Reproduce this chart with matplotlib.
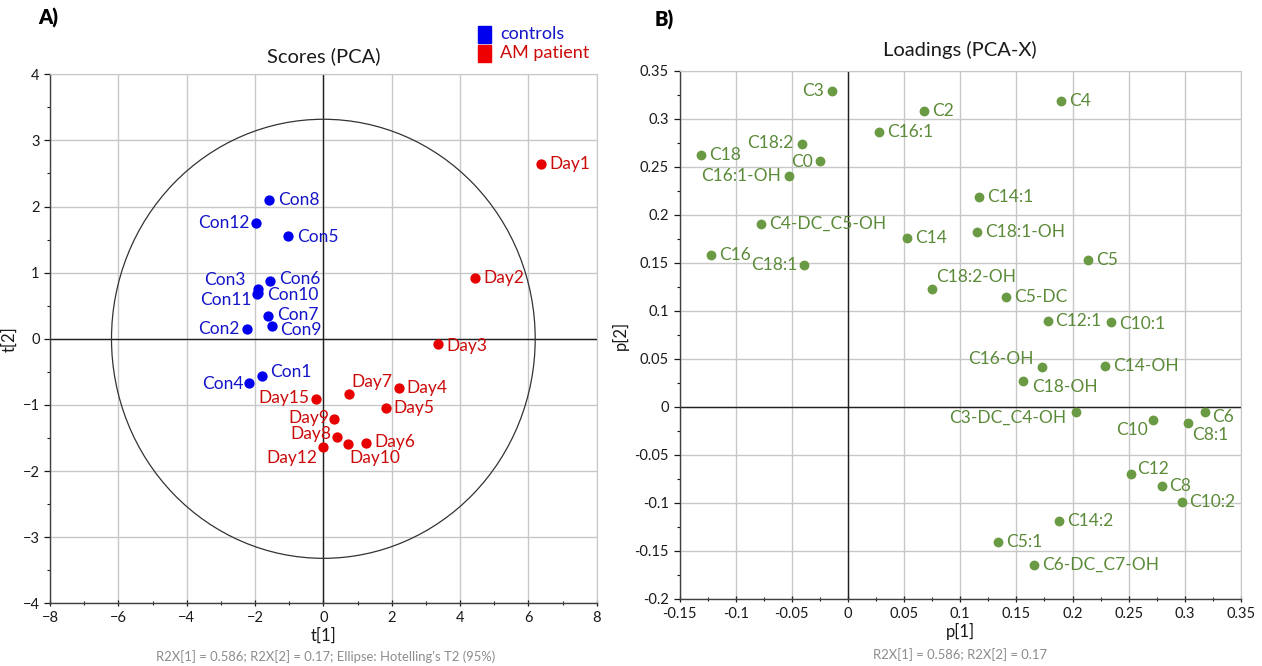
import matplotlib
matplotlib.use("Agg")
import matplotlib.pyplot as plt
from matplotlib.patches import Ellipse, Rectangle
import numpy as np

plt.rcParams['font.family'] = ['Lato', 'DejaVu Sans']

# ---------------- Scores data ----------------
ctrl_names = ["Con8", "Con12", "Con5", "Con6", "Con3", "Con11", "Con10",
              "Con7", "Con9", "Con2", "Con1", "Con4"]
ctrl_t1 = [-1.59, -1.97, -1.04, -1.56, -1.92, -1.95, -1.90, -1.63, -1.49, -2.24, -1.80, -2.17]
ctrl_t2 = [2.10, 1.75, 1.56, 0.87, 0.76, 0.67, 0.70, 0.35, 0.19, 0.15, -0.57, -0.67]

pat_names = ["Day1", "Day2", "Day3", "Day7", "Day4", "Day15", "Day5", "Day9",
             "Day8", "Day10", "Day6", "Day12"]
pat_t1 = [6.36, 4.43, 3.37, 0.75, 2.20, -0.21, 1.82, 0.31, 0.41, 0.73, 1.25, 0.0]
pat_t2 = [2.65, 0.92, -0.08, -0.84, -0.74, -0.91, -1.05, -1.21, -1.49, -1.59, -1.57, -1.63]

ellipse_rx = 6.2
ellipse_ry = 3.32

# ---------------- Loadings data ----------------
var_names = ["C3", "C2", "C4", "C16:1", "C18:2", "C18", "C0", "C16:1-OH",
             "C4-DC_C5-OH", "C14", "C14:1", "C18:1-OH", "C16", "C18:1", "C5",
             "C18:2-OH", "C5-DC", "C12:1", "C10:1", "C16-OH", "C14-OH", "C18-OH",
             "C3-DC_C4-OH", "C10", "C6", "C8:1", "C12", "C8", "C10:2", "C14:2",
             "C5:1", "C6-DC_C7-OH"]
p1 = [-0.014, 0.0674, 0.190, 0.0279, -0.0412, -0.131, -0.0252, -0.0525,
      -0.0775, 0.0525, 0.1167, 0.1146, -0.122, -0.0394, 0.214,
      0.0748, 0.1407, 0.1778, 0.2345, 0.173, 0.229, 0.1558,
      0.2028, 0.2716, 0.3176, 0.3028, 0.2517, 0.2793, 0.2971, 0.1879,
      0.1339, 0.1656]
p2 = [0.329, 0.308, 0.319, 0.2868, 0.274, 0.263, 0.2566, 0.2406,
      0.1906, 0.1764, 0.219, 0.1826, 0.1587, 0.148, 0.1535,
      0.123, 0.1146, 0.0899, 0.0882, 0.042, 0.0427, 0.0268,
      -0.0055, -0.0139, -0.0055, -0.0163, -0.0701, -0.0826, -0.0986, -0.119,
      -0.1406, -0.1646]

# label offsets (pixels) and alignment
ctrl_off = {"Con8": (9, 0, 'left'), "Con12": (-7, 0, 'right'), "Con5": (9, -1, 'left'),
            "Con6": (9, 2, 'left'), "Con3": (-12, 9, 'right'), "Con11": (-5, -6, 'right'),
            "Con10": (9, -2, 'left'), "Con7": (9, 1, 'left'), "Con9": (8, -4, 'left'),
            "Con2": (-7, 0, 'right'), "Con1": (8, 4, 'left'), "Con4": (-6, -1, 'right')}
pat_off = {"Day1": (9, 0, 'left'), "Day2": (9, 0, 'left'), "Day3": (8, -2, 'left'),
           "Day7": (2, 12, 'left'), "Day4": (8, 0, 'left'), "Day15": (-7, 1, 'right'),
           "Day5": (8, 0, 'left'), "Day9": (-5, 1, 'right'), "Day8": (-6, 3, 'right'),
           "Day10": (1, -14, 'left'), "Day6": (8, 1, 'left'), "Day12": (-6, -11, 'right')}
var_off = {"C3": (-8, 0, 'right'), "C18:2": (-8, 1, 'right'), "C0": (-7, -1, 'right'),
           "C16:1-OH": (-8, 0, 'right'), "C18:1": (-6, 0, 'right'),
           "C18:2-OH": (4, 12, 'left'), "C16-OH": (-9, 8, 'right'),
           "C18-OH": (9, -6, 'left'), "C3-DC_C4-OH": (-9, -6, 'right'),
           "C10": (-5, -10, 'right'), "C6": (8, -5, 'left'), "C8:1": (4, -12, 'left'),
           "C12": (7, 5, 'left'), "C10:1": (8, -2, 'left')}

# ---------------- figure ----------------
W, H = 1262, 666
fig = plt.figure(figsize=(W / 100, H / 100), dpi=100)

grid_c = '#c8c8c8'
spine_dark = '#404040'
tick_c = '#1a1a1a'
LBL = 12.5


def fmt(v):
    v = round(float(v), 3) + 0.0
    return '%g' % v


def style_axes(ax):
    ax.grid(True, which='major', color=grid_c, lw=1.0, zorder=0)
    ax.set_axisbelow(True)
    for s in ['top', 'right']:
        ax.spines[s].set_color(grid_c)
    for s in ['left', 'bottom']:
        ax.spines[s].set_color(spine_dark)
        ax.spines[s].set_linewidth(1.0)
    ax.tick_params(axis='both', which='major', labelsize=10.5, colors=tick_c, length=4, width=0.9)
    ax.tick_params(axis='both', which='minor', length=2.5, width=0.8, colors=tick_c)
    ax.tick_params(axis='x', which='both', direction='inout')
    ax.tick_params(axis='y', which='both', direction='out')


# ---- Left panel ----
ax1 = fig.add_axes([50 / W, 1 - 603.3 / H, 546.7 / W, 529 / H])
ax1.set_xlim(-8, 8)
ax1.set_ylim(-4, 4)
ax1.set_xticks(np.arange(-8, 9, 2))
ax1.set_yticks(np.arange(-4, 5, 1))
ax1.set_xticks(np.arange(-7, 8, 2), minor=True)
ax1.set_yticks(np.arange(-3.5, 4, 1), minor=True)
style_axes(ax1)
ax1.axhline(0, color='#202020', lw=1.0, zorder=1)
ax1.axvline(0, color='#202020', lw=1.0, zorder=1)
ax1.add_patch(Ellipse((0, 0), 2 * ellipse_rx, 2 * ellipse_ry, fill=False,
                      edgecolor='#333333', lw=0.9, zorder=2))

blue_dot = '#0000ee'
blue_txt = '#1414c8'
red_dot = '#e60000'
red_txt = '#cc0a0a'
ax1.scatter(ctrl_t1, ctrl_t2, s=55, color=blue_dot, zorder=3, linewidths=0)
ax1.scatter(pat_t1, pat_t2, s=55, color=red_dot, zorder=3, linewidths=0)
for n, x, y in zip(ctrl_names, ctrl_t1, ctrl_t2):
    dx, dy, ha = ctrl_off[n]
    ax1.annotate(n, (x, y), xytext=(dx, dy), textcoords='offset pixels', ha=ha,
                 va='center', fontsize=LBL, color=blue_txt, zorder=4)
for n, x, y in zip(pat_names, pat_t1, pat_t2):
    dx, dy, ha = pat_off[n]
    ax1.annotate(n, (x, y), xytext=(dx, dy), textcoords='offset pixels', ha=ha,
                 va='center', fontsize=LBL, color=red_txt, zorder=4)

ax1.set_xlabel('t[1]', fontsize=12, color=tick_c, labelpad=2)
ax1.set_ylabel('t[2]', fontsize=12, color=tick_c, labelpad=4)
ax1.set_title('Scores (PCA)', fontsize=14.5, color='#1a1a1a', pad=9)

fig.text(326 / W, 1 - 657 / H, "R2X[1] = 0.586; R2X[2] = 0.17; Ellipse: Hotelling's T2 (95%)",
         ha='center', va='center', fontsize=9.4, color='#8c8c8c')
fig.text(38 / W, 1 - 18 / H, 'A)', ha='left', va='center', fontsize=14.5, fontweight='heavy')

# legend
fig.patches.append(Rectangle((478 / W, 1 - 42.5 / H), 13 / W, 16 / H, transform=fig.transFigure,
                             color='#0000ee', figure=fig))
fig.patches.append(Rectangle((478 / W, 1 - 61.5 / H), 13 / W, 16 / H, transform=fig.transFigure,
                             color='#ee0000', figure=fig))
fig.text(500 / W, 1 - 34 / H, 'controls', ha='left', va='center', fontsize=13, color='#1414c8')
fig.text(500 / W, 1 - 53 / H, 'AM patient', ha='left', va='center', fontsize=13, color='#cc0a0a')

# ---- Right panel ----
ax2 = fig.add_axes([679.5 / W, 1 - 599 / H, 561.5 / W, 528 / H])
ax2.set_xlim(-0.15, 0.35)
ax2.set_ylim(-0.2, 0.35)
xt = np.round(np.arange(-0.15, 0.351, 0.05), 3)
yt = np.round(np.arange(-0.2, 0.351, 0.05), 3)
ax2.set_xticks(xt)
ax2.set_yticks(yt)
ax2.set_xticks(np.round(np.arange(-0.125, 0.35, 0.05), 3), minor=True)
ax2.set_yticks(np.round(np.arange(-0.175, 0.35, 0.05), 3), minor=True)
ax2.set_xticklabels([fmt(v) for v in xt])
ax2.set_yticklabels([fmt(v) for v in yt])
style_axes(ax2)
ax2.axhline(0, color='#202020', lw=1.0, zorder=1)
ax2.axvline(0, color='#202020', lw=1.0, zorder=1)

green_dot = '#6b9a44'
green_txt = '#5b8a38'
ax2.scatter(p1, p2, s=50, color=green_dot, zorder=3, linewidths=0)
for n, x, y in zip(var_names, p1, p2):
    dx, dy, ha = var_off.get(n, (8, 0, 'left'))
    ax2.annotate(n, (x, y), xytext=(dx, dy), textcoords='offset pixels', ha=ha,
                 va='center', fontsize=LBL, color=green_txt, zorder=4)

ax2.set_xlabel('p[1]', fontsize=12, color=tick_c, labelpad=2)
ax2.set_ylabel('p[2]', fontsize=12, color=tick_c, labelpad=4)
ax2.set_title('Loadings (PCA-X)', fontsize=14.5, color='#1a1a1a', pad=11)

fig.text(960 / W, 1 - 655 / H, "R2X[1] = 0.586; R2X[2] = 0.17",
         ha='center', va='center', fontsize=9.4, color='#8c8c8c')
fig.text(655 / W, 1 - 20 / H, 'B)', ha='left', va='center', fontsize=14.5, fontweight='heavy')

fig.savefig('out.png', dpi=100)
